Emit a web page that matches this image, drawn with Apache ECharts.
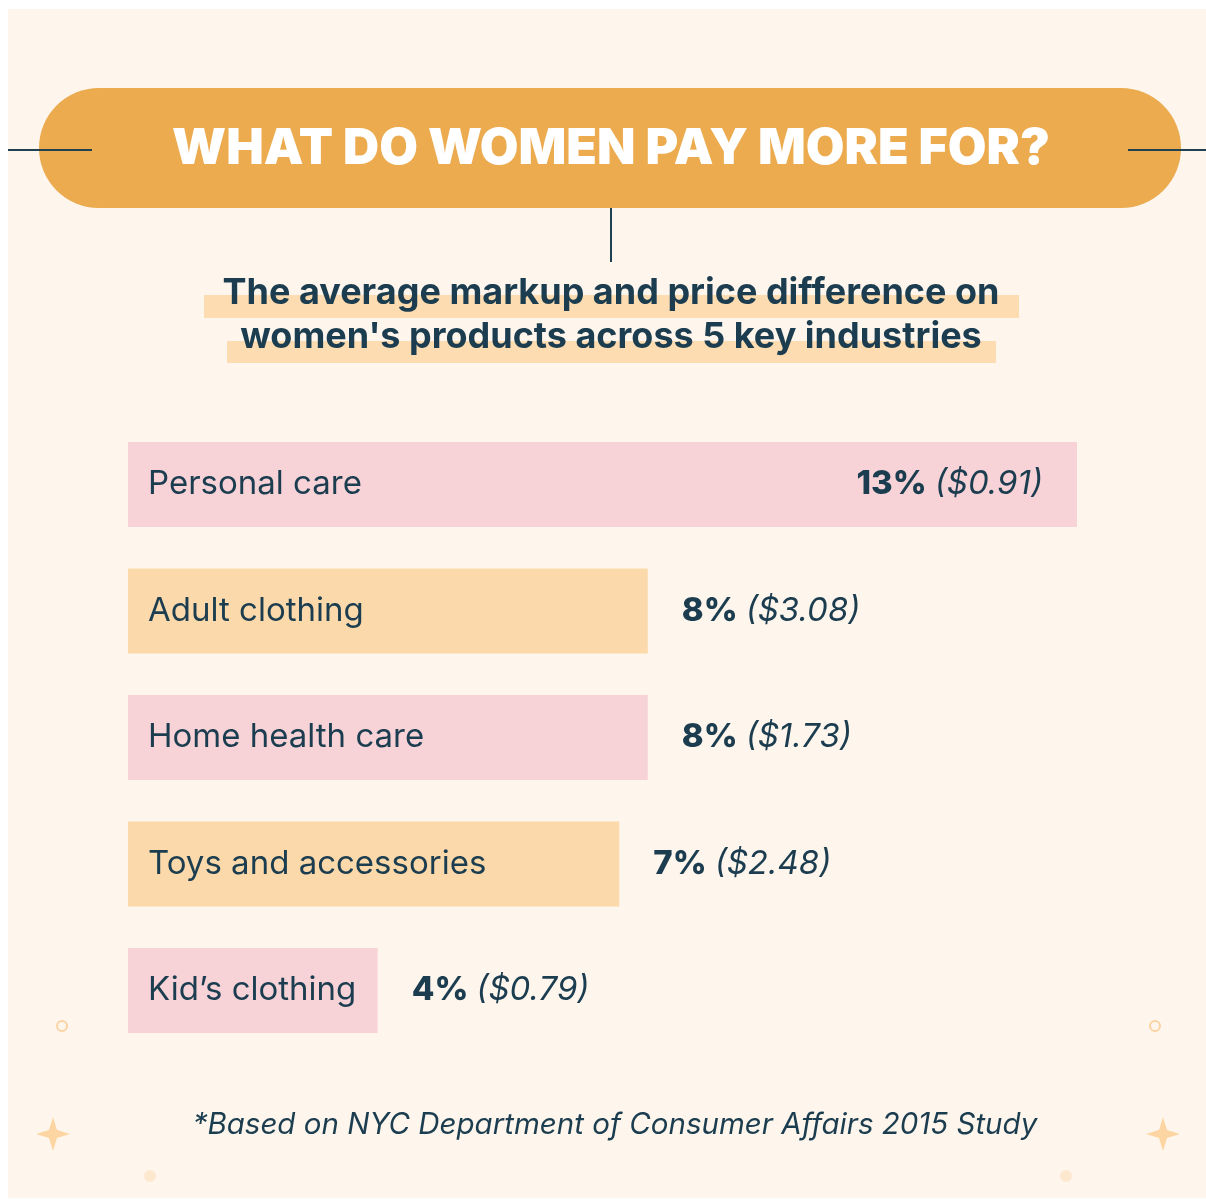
<!DOCTYPE html>
<html lang="en">
<head>
<meta charset="utf-8" />
<title>What do women pay more for?</title>
<style>
  html, body { margin: 0; padding: 0; background: #ffffff; }
  #chart { width: 1206px; height: 1200px; }
</style>
<script src="https://cdn.jsdelivr.net/npm/echarts@6/dist/echarts.min.js"></script>
</head>
<body>
<div id="chart"></div>
<script>
// data
var categories = ['Personal care', 'Adult clothing', 'Home health care', 'Toys and accessories', 'Kid\u2019s clothing'];
var markup = ['13%', '8%', '8%', '7%', '4%'];
var priceDiff = ['$0.91', '$3.08', '$1.73', '$2.48', '$0.79'];
// bar lengths as drawn (in % units, the drawing is not to scale)
var barLength = [13, 7.12, 7.12, 6.73, 3.42];
var barColors = ['#f7d3d8', '#fbd9aa', '#f7d3d8', '#fbd9aa', '#f7d3d8'];

var ink = '#1b3d4f';
var font = 'Inter, "Open Sans", sans-serif';

var chart = echarts.init(document.getElementById('chart'));

// 4 point star
function star(cx, cy) {
  var r = 17, k = 4;
  return [[cx, cy - r], [cx + k, cy - k], [cx + r, cy], [cx + k, cy + k],
          [cx, cy + r], [cx - k, cy + k], [cx - r, cy], [cx - k, cy - k]];
}

var data = barLength.map(function (v, i) {
  return {
    value: v,
    itemStyle: { color: barColors[i] },
    label: { position: i === 0 ? 'insideRight' : 'right' }
  };
});

var option = {
  backgroundColor: '#ffffff',
  animation: false,
  grid: { left: 128, width: 949, top: 421.25, height: 632.5 },
  xAxis: {
    type: 'value', min: 0, max: 13,
    show: false
  },
  yAxis: {
    type: 'category',
    data: categories,
    inverse: true,
    z: 10,
    axisLine: { show: false },
    axisTick: { show: false },
    axisLabel: {
      inside: true,
      margin: 20,
      color: ink,
      fontFamily: font,
      fontSize: 33,
      padding: [4, 0, 0, 0]
    }
  },
  series: [{
    type: 'bar',
    data: data,
    barWidth: 85,
    label: {
      show: true,
      distance: 34,
      formatter: function (p) {
        return '{b|' + markup[p.dataIndex] + '}{s| }{i|(' + priceDiff[p.dataIndex] + ')}';
      },
      rich: {
        b: { color: ink, fontFamily: font, fontWeight: 800, fontSize: 33 },
        s: { fontSize: 33, width: 8 },
        i: { color: ink, fontFamily: font, fontStyle: 'italic', fontSize: 33 }
      }
    }
  }],
  graphic: [
    // cream panel
    { type: 'rect', z: -10, shape: { x: 8, y: 9, width: 1198, height: 1189 }, style: { fill: '#fef6ed' } },
    // pill
    { type: 'rect', z: 1, shape: { x: 39, y: 88, width: 1142, height: 120, r: 60 }, style: { fill: '#ebab4e' } },
    // header lines
    { type: 'line', z: 3, shape: { x1: 8, y1: 150, x2: 92, y2: 150 }, style: { stroke: '#1f4150', lineWidth: 2 } },
    { type: 'line', z: 3, shape: { x1: 1128, y1: 150, x2: 1206, y2: 150 }, style: { stroke: '#1f4150', lineWidth: 2 } },
    { type: 'line', z: 3, shape: { x1: 611, y1: 208, x2: 611, y2: 262 }, style: { stroke: '#1f4150', lineWidth: 2 } },
    { type: 'text', z: 2, x: 611, y: 149,
      style: { text: 'WHAT DO WOMEN PAY MORE FOR?', fill: '#ffffff', font: '900 50px ' + font,
        textAlign: 'center', textVerticalAlign: 'middle' } },
    // subtitle highlights
    { type: 'rect', shape: { x: 204, y: 295, width: 815, height: 23 }, style: { fill: '#fcdcb0' } },
    { type: 'rect', shape: { x: 227, y: 341, width: 769, height: 22 }, style: { fill: '#fcdcb0' } },
    { type: 'text', z: 2, x: 611, y: 293,
      style: { text: 'The average markup and price difference on', fill: ink, font: 'bold 36px ' + font,
        textAlign: 'center', textVerticalAlign: 'middle' } },
    { type: 'text', z: 2, x: 611, y: 337,
      style: { text: 'women\'s products across 5 key industries', fill: ink, font: 'bold 36px ' + font,
        textAlign: 'center', textVerticalAlign: 'middle' } },
    // footnote
    { type: 'text', x: 615, y: 1125,
      style: { text: '*Based on NYC Department of Consumer Affairs 2015 Study', fill: ink,
        font: 'italic 29.5px ' + font, textAlign: 'center', textVerticalAlign: 'middle' } },
    // decorations
    { type: 'circle', shape: { cx: 62, cy: 1026, r: 5 }, style: { fill: 'none', stroke: '#fbd3a2', lineWidth: 2 } },
    { type: 'circle', shape: { cx: 1155, cy: 1026, r: 5 }, style: { fill: 'none', stroke: '#fbd3a2', lineWidth: 2 } },
    { type: 'polygon', shape: { points: star(53, 1134) }, style: { fill: '#fcd5a2' } },
    { type: 'polygon', shape: { points: star(1163, 1134) }, style: { fill: '#fcd5a2' } },
    { type: 'circle', shape: { cx: 150, cy: 1176, r: 6 }, style: { fill: '#fbe8cf' } },
    { type: 'circle', shape: { cx: 1066, cy: 1176, r: 6 }, style: { fill: '#fbe8cf' } }
  ]
};

chart.setOption(option);
window.onresize = function () { chart.resize(); };
</script>
</body>
</html>
